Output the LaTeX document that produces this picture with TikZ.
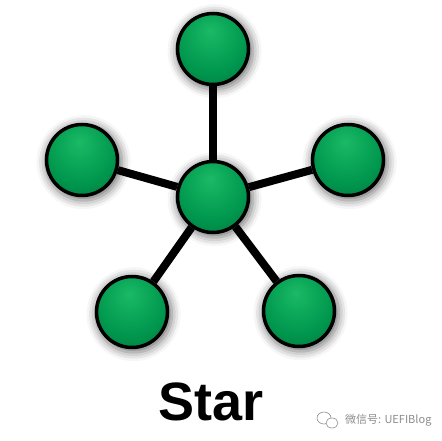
\documentclass[tikz,border=0pt]{standalone}
\usepackage{fontspec}
\usepackage{xcolor}
\usepackage{tikz}
\usetikzlibrary{positioning, backgrounds, shadows.blur}
\newfontfamily\labelfont{Liberation Sans}
\newfontfamily\cjkfont{Noto Sans CJK SC}
\definecolor{BallLight}{RGB}{26, 186, 102}
\definecolor{BallMid}{RGB}{0, 152, 78}
\definecolor{BallDark}{RGB}{0, 100, 50}
\definecolor{MarkGray}{RGB}{140, 140, 140}
\pgfdeclareradialshading{greenball}{\pgfpoint{-2bp}{13bp}}{%
  color(0bp)=(BallLight); color(24bp)=(BallMid); color(50bp)=(BallDark);
  color(70bp)=(BallDark)}

\begin{document}
\begin{tikzpicture}[
    x=1pt, y=-1pt,
    ball/.style={circle, draw=black, line width=3.5pt, minimum size=71pt,
                 inner sep=0pt, shading=greenball,
                 blur shadow={shadow xshift=1.5pt, shadow yshift=-2pt,
                              shadow blur radius=8pt, shadow scale=1.08,
                              shadow opacity=55}},
    link/.style={line width=8pt, black},
    title/.style={font=\labelfont\bfseries\fontsize{54}{60}\selectfont},
    wmark/.style={font=\cjkfont\fontsize{11}{12}\selectfont, MarkGray}
    ]
    \useasboundingbox (0,0) rectangle (442,441);

    \node[ball] (hub)   at (213,197) {};
    \node[ball] (top)   at (213,49)  {};
    \node[ball] (left)  at (82,160)  {};
    \node[ball] (right) at (348,160) {};
    \node[ball] (botl)  at (132,312) {};
    \node[ball] (botr)  at (299,311) {};

    \begin{scope}[on background layer]
      \foreach \n in {top, left, right, botl, botr}
        \draw[link] (hub) -- (\n);
    \end{scope}

    \node[title] (name) at (211,402) {Star};

    % watermark
    \node[wmark, anchor=west, inner sep=0pt] (wm) at (345,420) {微信号: UEFIBlog};
    \draw[MarkGray, line width=0.6pt] (324,418) ellipse (7pt and 6pt);
    \draw[MarkGray, line width=0.6pt, fill=white] (332,423) ellipse (6pt and 5pt);
  \end{tikzpicture}
\end{document}
